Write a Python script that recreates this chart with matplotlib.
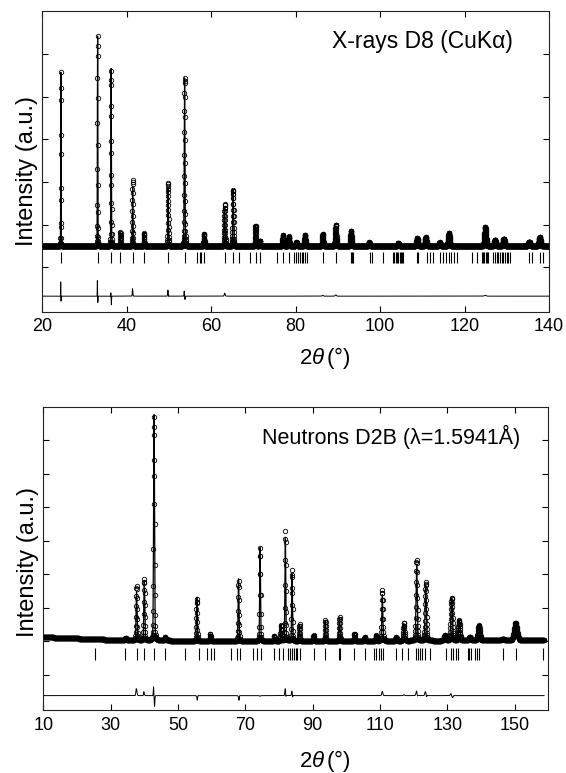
import numpy as np
import matplotlib
matplotlib.use("Agg")
import matplotlib.pyplot as plt

plt.rcParams.update({
    "font.family": ["Liberation Sans", "DejaVu Sans"],
    "mathtext.fontset": "custom",
    "mathtext.rm": "Liberation Sans",
    "mathtext.it": "Liberation Sans:italic",
    "axes.linewidth": 0.8,
    "axes.edgecolor": "#222222",
})

# ─── X-rays D8 (CuKa) : peaks (2theta, calc top, obs top), intensities in a.u. ───
xr_pos = [24.4, 33.1, 36.3, 38.5, 41.4, 44.1, 49.8, 53.7, 58.3, 63.2, 65.2, 70.5, 71.5,
          77.0, 78.4, 80.2, 82.2, 86.4, 89.5, 93.1, 97.4, 104.3, 108.8, 110.8, 114.1,
          116.3, 124.9, 127.2, 129.3, 135.3, 137.8]
xr_calc = [4.57, 5.42, 4.66, 0.82, 1.90, 0.80, 1.86, 4.44, 0.78, 1.40, 1.82, 0.97, 0.62,
           0.75, 0.72, 0.58, 0.76, 0.75, 0.97, 0.85, 0.58, 0.56, 0.68, 0.70, 0.58,
           0.80, 0.93, 0.64, 0.67, 0.60, 0.70]
xr_obs = [4.54, 5.36, 4.62, 0.82, 2.04, 0.80, 1.98, 4.44, 0.78, 1.47, 1.82, 0.97, 0.62,
          0.75, 0.72, 0.58, 0.76, 0.77, 1.00, 0.85, 0.58, 0.56, 0.68, 0.70, 0.58,
          0.80, 0.95, 0.64, 0.67, 0.60, 0.70]
xr_bg = 0.485
xr_res_pos = [24.4, 33.1, 36.3, 41.4, 49.8, 53.7]
xr_res_up = [0.35, 0.40, 0.10, 0.08, 0.06, 0.12]
xr_res_dn = [0.10, 0.12, 0.18, 0.03, 0.06, 0.08]
xr_hkl = [24.4, 33.1, 36.3, 38.5, 41.4, 44.1, 49.8, 53.8, 56.6, 57.3, 57.7, 58.3, 63.3,
          65.2, 66.7, 69.2, 70.5, 71.6, 75.5, 77.1, 78.5, 79.6, 80.2, 80.6, 81.0, 81.4,
          81.8, 82.2, 82.6, 86.5, 89.6, 93.1, 93.4, 93.7, 97.6, 98.0, 100.6, 103.1,
          103.4, 103.7, 104.0, 104.3, 104.6, 104.9, 105.2, 105.5, 108.8, 109.0, 111.0,
          111.7, 112.5, 114.2, 114.9, 115.7, 116.3, 116.8, 117.4, 118.1, 121.7, 122.9,
          124.1, 124.4, 124.7, 125.0, 125.3, 125.6, 126.7, 127.2, 127.6, 128.0, 128.4,
          128.8, 129.2, 129.6, 130.0, 130.4, 130.8, 135.3, 135.9, 137.9, 138.5]

# ─── Neutrons D2B (1.5941 A) ───
nd_pos = [34.5, 37.7, 40.0, 42.9, 46.2, 55.6, 59.6, 68.0, 74.4, 78.6, 80.6, 81.9, 83.9,
          86.1, 90.3, 93.8, 98.0, 102.4, 105.5, 108.9, 110.7, 114.8, 117.1, 120.9,
          123.6, 129.3, 131.3, 133.5, 136.7, 139.4, 146.5, 150.3]
nd_calc = [0.10, 1.46, 1.80, 6.77, 0.12, 1.31, 0.22, 1.86, 2.80, 0.15, 0.47, 3.10, 2.00,
           0.50, 0.17, 0.62, 0.71, 0.22, 0.12, 0.17, 1.39, 0.12, 0.52, 2.30,
           1.66, 0.17, 1.29, 0.62, 0.12, 0.47, 0.07, 0.54]
nd_obs = [0.10, 1.64, 1.83, 6.70, 0.12, 1.28, 0.22, 1.82, 2.78, 0.15, 0.47, 3.30, 2.12,
          0.50, 0.17, 0.62, 0.71, 0.22, 0.12, 0.17, 1.52, 0.12, 0.55, 2.45,
          1.76, 0.17, 1.29, 0.62, 0.12, 0.47, 0.07, 0.54]
nd_bg_pos = [10, 30, 60, 158.8]
nd_bg_val = [0.12, 0.04, 0.0, 0.02]
nd_res_pos = [37.7, 40.0, 42.9, 55.6, 68.0, 81.9, 83.9, 120.9, 123.6, 131.3]
nd_res_up = [0.08, 0.10, 0.30, 0.00, 0.00, 0.05, 0.05, 0.00, 0.05, 0.06]
nd_res_dn = [0.00, 0.00, 0.28, 0.12, 0.12, 0.12, 0.10, 0.08, 0.08, 0.06]
nd_hkl = [25.4, 34.4, 37.7, 40.0, 42.9, 46.0, 52.0, 56.1, 58.7, 59.7, 60.7, 65.8, 67.4,
          68.5, 72.2, 73.5, 74.6, 78.6, 79.9, 81.2, 82.6, 83.2, 83.8, 84.4, 85.0, 85.5,
          86.1, 90.3, 93.8, 97.7, 98.2, 102.4, 105.5, 108.2, 108.9, 109.6, 110.2, 110.9,
          114.9, 116.6, 118.3, 120.6, 121.3, 122.0, 122.6, 123.3, 125.0, 129.5, 131.0,
          131.7, 132.5, 133.2, 136.0, 136.4, 136.9, 138.3, 138.8, 139.4, 146.6, 150.3,
          158.3]


def pv(x, p, fw, eta=0.15):
    u = (x - p) / fw
    return (1 - eta) * np.exp(-4 * np.log(2) * u ** 2) + eta / (1 + 4 * u ** 2)


def fw_xray(t):
    return 0.07 + 0.004 * (t - 20)


def fw_neutron(t):
    tn = np.tan(np.radians(t / 2))
    return np.sqrt(0.12 * tn ** 2 - 0.2 * tn + 0.17)


def pattern(x, pos, top, bgf, fwf):
    y = bgf(x).astype(float)
    for p, t in zip(pos, top):
        y += (t - bgf(np.array(p))) * pv(x, p, fwf(p))
    return y


def residual(x, pos, up, dn, fwf):
    r = np.zeros_like(x)
    for p, a, b in zip(pos, up, dn):
        w = fwf(p)
        r += a * np.exp(-((x - (p - 0.45 * w)) / (0.35 * w)) ** 2)
        r -= b * np.exp(-((x - (p + 0.45 * w)) / (0.35 * w)) ** 2)
    return r


def panel(ax, x, obs, calc, hkl, tlo, thi, off):
    ax.plot(x, obs, "o", ms=3.2, mfc="none", mec="k", mew=0.6, zorder=2)
    ax.plot(x, calc, "-", color="k", lw=0.9, zorder=3)
    ax.vlines(hkl, tlo, thi, color="k", lw=0.8)
    ax.plot(x, obs - calc + off, "-", color="k", lw=0.7)
    ax.tick_params(direction="in", top=True, right=True, length=4, width=0.8,
                   labelsize=13, labelleft=False, pad=5)


W, H = 566, 773
fig = plt.figure(figsize=(W / 100, H / 100), dpi=100)

# ─── 1. X-rays ───
ax1 = fig.add_axes([42.3 / W, 1 - 311.5 / H, 506.7 / W, 300.5 / H])
x1 = np.arange(20, 140.001, 0.02)
bg1 = lambda t: np.full(np.shape(t), xr_bg)
calc1 = pattern(x1, xr_pos, xr_calc, bg1, fw_xray)
obs1 = pattern(x1, xr_pos, xr_obs, bg1, fw_xray) + residual(x1, xr_res_pos, xr_res_up, xr_res_dn, fw_xray)
panel(ax1, x1, obs1, calc1, xr_hkl, 0.09, 0.35, -0.68)
ax1.set_xlim(20, 140)
ax1.set_ylim(-1.04, 6.01)
ax1.set_xticks(range(20, 141, 20))
ax1.set_yticks(range(0, 6))
ax1.text(0.929, 0.897, "X-rays D8 (CuK\u03b1)", transform=ax1.transAxes, ha="right", va="center", fontsize=16.5)

# ─── 2. Neutrons ───
ax2 = fig.add_axes([43.3 / W, 1 - 710 / H, 505 / W, 303 / H])
x2 = np.arange(10, 158.8, 0.05)
bg2 = lambda t: np.interp(t, nd_bg_pos, nd_bg_val)
calc2 = pattern(x2, nd_pos, nd_calc, bg2, fw_neutron)
obs2 = pattern(x2, nd_pos, nd_obs, bg2, fw_neutron) + residual(x2, nd_res_pos, nd_res_up, nd_res_dn, fw_neutron)
panel(ax2, x2, obs2, calc2, nd_hkl, -0.56, -0.22, -1.63)
ax2.set_xlim(10, 160)
ax2.set_ylim(-2.06, 7.0)
ax2.set_xticks(range(10, 151, 20))
ax2.set_yticks(range(-1, 7))
ax2.text(0.944, 0.902, "Neutrons D2B (\u03bb=1.5941\u00c5)", transform=ax2.transAxes, ha="right", va="center", fontsize=15.5)

for ax, ly, lx in [(ax1, 0.468, -0.111), (ax2, 0.488, -0.125)]:
    ax.set_ylabel("Intensity (a.u.)", fontsize=17)
    ax.yaxis.set_label_coords(-0.008, ly)
    ax.set_xlabel(r"2$\theta\,$(°)", fontsize=16)
    ax.xaxis.set_label_coords(0.558, lx)

fig.savefig("out.png", dpi=100)
plt.close(fig)
